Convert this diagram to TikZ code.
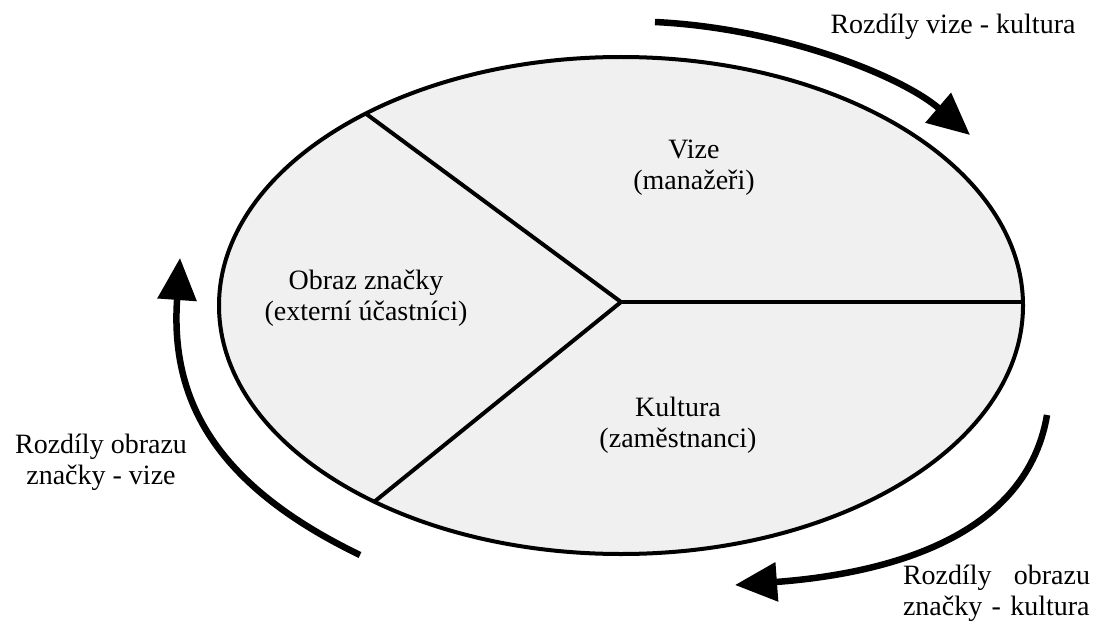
\documentclass[tikz,border=0pt]{standalone}
\usepackage{fontspec}
\setmainfont{Liberation Serif}
\usetikzlibrary{arrows.meta,positioning}
\definecolor{zonegray}{RGB}{240,240,240}

\begin{document}
\begin{tikzpicture}[
  x=1pt, y=-1pt,
  zone/.style={draw=black, line width=4pt, fill=zonegray},
  spoke/.style={line width=4pt},
  txt/.style={font=\fontsize{28}{31}\selectfont, align=center, inner sep=0pt},
  gaparrow/.style={line width=6.5pt, -{Triangle[length=42pt, width=38pt]}}
]
\useasboundingbox (0,0) rectangle (1097,623);

\draw[zone] (621,305.5) ellipse [x radius=402, y radius=248.5];

\coordinate (hub) at (621,302);
\coordinate (rimE) at (1023,302);
\coordinate (rimNW) at (365,113);
\coordinate (rimSW) at (374,502);
\draw[spoke] (hub) -- (rimE);
\draw[spoke] (hub) -- (rimNW);
\draw[spoke] (hub) -- (rimSW);

\node[txt] (vize) at (694,168) {Vize\\(manažeři)};
\node[txt] (obraz) at (366,298) {Obraz značky\\(externí účastníci)};
\node[txt] (kultura) at (678,425) {Kultura\\(zaměstnanci)};

% arrows round the ellipse
\coordinate (topA) at (655,22);
\coordinate (topB) at (970,135);
\draw[gaparrow] (topA) .. controls (780,28) and (900,75) .. (topB);
\node[txt] (gapVK) at (953,27) {Rozdíly vize - kultura};

\coordinate (rightA) at (1047,415);
\coordinate (rightB) at (735,585);
\draw[gaparrow] (rightA) .. controls (1025,545) and (870,575) .. (rightB);
\node[txt, align=left, text width=187pt] (gapOK) at (996.5,593)
  {Rozdíly\hfill obrazu\\značky - kultura};

\coordinate (leftA) at (360,555);
\coordinate (leftB) at (180,258);
\draw[gaparrow] (leftA) .. controls (215,485) and (170,400) .. (leftB);
\node[txt] (gapOV) at (101,462) {Rozdíly obrazu\\značky - vize};

\end{tikzpicture}
\end{document}
